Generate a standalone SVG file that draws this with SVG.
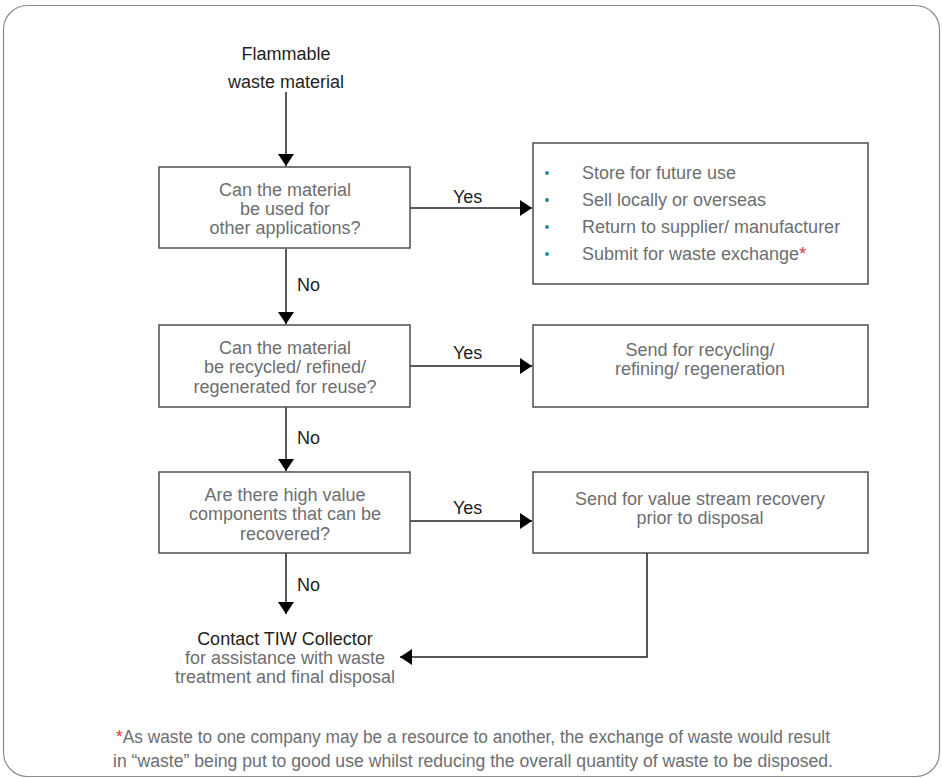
<svg xmlns="http://www.w3.org/2000/svg" width="942" height="778" viewBox="0 0 942 778">
<style>
text{font-family:"Liberation Sans",Arial,sans-serif;font-size:18px}
.k{fill:#231f20}
.g{fill:#6d6e71}
.c{text-anchor:middle}
.box{fill:#fff;stroke:#4d4d4d;stroke-width:1.5}
.ln{fill:none;stroke:#231f20;stroke-width:1.5}
.red{fill:#e03a45}
.dot{fill:#1a8f9b}
.fn{font-size:18px}
</style>
<defs>
<marker id="ah" viewBox="0 0 12 16" refX="12" refY="8" markerWidth="12" markerHeight="16" markerUnits="userSpaceOnUse" orient="auto">
<path d="M0,0 L12,8 L0,16 Z" fill="#000"/>
</marker>
</defs>
<rect x="3.5" y="5.5" width="936" height="771" rx="24" ry="24" fill="#fff" stroke="#8a8a8a" stroke-width="1.2"/>
<g id="connectors">
<line class="ln" x1="286" y1="92" x2="286" y2="166" marker-end="url(#ah)"/>
<line class="ln" x1="286" y1="249" x2="286" y2="324" marker-end="url(#ah)"/>
<line class="ln" x1="286" y1="407" x2="286" y2="471" marker-end="url(#ah)"/>
<line class="ln" x1="286" y1="553" x2="286" y2="614" marker-end="url(#ah)"/>
<line class="ln" x1="410" y1="208" x2="532" y2="208" marker-end="url(#ah)"/>
<line class="ln" x1="410" y1="366" x2="532" y2="366" marker-end="url(#ah)"/>
<line class="ln" x1="410" y1="521" x2="532" y2="521" marker-end="url(#ah)"/>
<polyline class="ln" points="647,553 647,657 400,657" marker-end="url(#ah)"/>
<text class="k" x="453" y="203">Yes</text>
<text class="k" x="453" y="359">Yes</text>
<text class="k" x="453" y="514">Yes</text>
<text class="k" x="297" y="291">No</text>
<text class="k" x="297" y="444">No</text>
<text class="k" x="297" y="591">No</text>
</g>
<g id="start">
<text class="k c" x="286" y="60">Flammable</text>
<text class="k c" x="286" y="88">waste material</text>
</g>
<g id="q1">
<rect class="box" x="159" y="167" width="251" height="81"/>
<text class="g c" x="285" y="196">Can the material</text>
<text class="g c" x="285" y="215">be used for</text>
<text class="g c" x="285" y="234">other applications?</text>
</g>
<g id="a1">
<rect class="box" x="533" y="143" width="335" height="141"/>
<circle class="dot" cx="547" cy="173" r="2"/>
<circle class="dot" cx="547" cy="200" r="2"/>
<circle class="dot" cx="547" cy="227" r="2"/>
<circle class="dot" cx="547" cy="254" r="2"/>
<text class="g" x="582" y="179">Store for future use</text>
<text class="g" x="582" y="206">Sell locally or overseas</text>
<text class="g" x="582" y="233">Return to supplier/ manufacturer</text>
<text class="g" x="582" y="260">Submit for waste exchange<tspan class="red">*</tspan></text>
</g>
<g id="q2">
<rect class="box" x="159" y="325" width="251" height="82"/>
<text class="g c" x="285" y="354">Can the material</text>
<text class="g c" x="285" y="373">be recycled/ refined/</text>
<text class="g c" x="285" y="393">regenerated for reuse?</text>
</g>
<g id="a2">
<rect class="box" x="533" y="325" width="335" height="82"/>
<text class="g c" x="700" y="356">Send for recycling/</text>
<text class="g c" x="700" y="375">refining/ regeneration</text>
</g>
<g id="q3">
<rect class="box" x="159" y="472" width="251" height="81"/>
<text class="g c" x="285" y="501">Are there high value</text>
<text class="g c" x="285" y="520">components that can be</text>
<text class="g c" x="285" y="540">recovered?</text>
</g>
<g id="a3">
<rect class="box" x="533" y="472" width="335" height="81"/>
<text class="g c" x="700" y="505">Send for value stream recovery</text>
<text class="g c" x="700" y="524">prior to disposal</text>
</g>
<g id="end">
<text class="k c" x="285" y="645">Contact TIW Collector</text>
<text class="g c" x="285" y="664">for assistance with waste</text>
<text class="g c" x="285" y="683">treatment and final disposal</text>
</g>
<g id="footnote">
<text class="g fn" x="116" y="743" textLength="714" lengthAdjust="spacingAndGlyphs"><tspan class="red">*</tspan>As waste to one company may be a resource to another, the exchange of waste would result</text>
<text class="g fn" x="113" y="767" textLength="720" lengthAdjust="spacingAndGlyphs">in “waste” being put to good use whilst reducing the overall quantity of waste to be disposed.</text>
</g>
</svg>
